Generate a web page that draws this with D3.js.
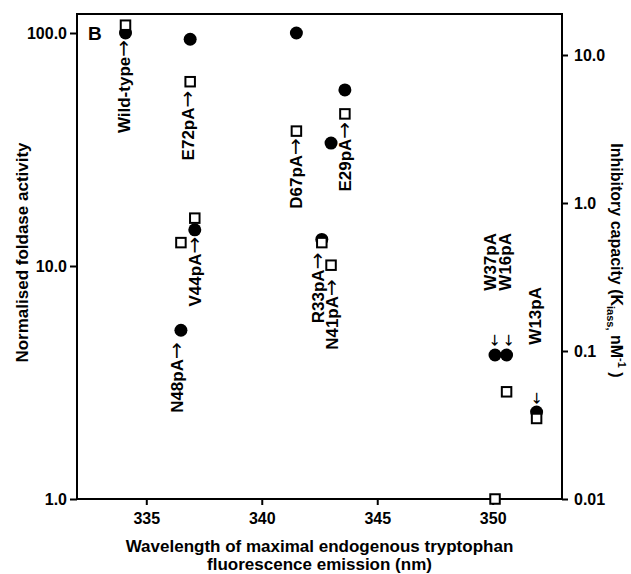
<!DOCTYPE html>
<html><head><meta charset="utf-8">
<script src="https://cdn.jsdelivr.net/npm/d3@7"></script>
<style>
html,body{margin:0;padding:0;background:#fff;}
svg{display:block;font-family:"Liberation Sans",Arial,sans-serif;}
</style></head>
<body><svg id="chart" width="631" height="574"></svg>
<script>
// ---- data ----
const mutants    = ["Wild-type","E72pA","N48pA","V44pA","D67pA","R33pA","N41pA","E29pA","W37pA","W16pA","W13pA"];
const wavelength = [334.1, 336.9, 336.5, 337.1, 341.5, 342.6, 343.0, 343.6, 350.1, 350.6, 351.9];
const foldase    = [100, 94, 5.3, 14.3, 100, 13.0, 33.7, 57, 4.15, 4.15, 2.36];
const inhibitory = [15.9, 6.6, 0.54, 0.79, 3.06, 0.54, 0.38, 4.0, 0.01, 0.053, 0.035];
const xTicks = [335, 340, 345, 350];
const leftTicks = [1, 10, 100];
const leftTickLabels = ["1.0", "10.0", "100.0"];
const rightTicks = [0.01, 0.1, 1, 10];
const rightTickLabels = ["0.01", "0.1", "1.0", "10.0"];

// ---- layout ----
const L = 77, R = 562, T = 14, B = 499;
const svg = d3.select("#chart");
const x = d3.scaleLinear().domain([332, 353]).range([L, R]);
const yL = d3.scaleLog().domain([1, 100]).range([B, 33]);
const yR = d3.scaleLog().domain([0.01, 10]).range([B, 55]);
const arrowFont = "'DejaVu Sans', sans-serif";

// frame
svg.append("rect").attr("x", L).attr("y", T).attr("width", R - L).attr("height", B - T)
  .attr("fill", "none").attr("stroke", "#000").attr("stroke-width", 2);

function styleAxis(g) {
  g.select(".domain").remove();
  g.selectAll(".tick line").attr("stroke", "#000").attr("stroke-width", 2);
  g.selectAll(".tick text").attr("fill", "#000").style("font-size", "16px").style("font-weight", "bold")
    .style("font-family", "'Liberation Sans', Arial, sans-serif");
}
svg.append("g").attr("transform", `translate(0,${B})`)
  .call(d3.axisBottom(x).tickValues(xTicks).tickSize(6).tickPadding(8).tickFormat(d3.format("d")))
  .call(styleAxis);
svg.append("g").attr("transform", `translate(${L},0)`)
  .call(d3.axisLeft(yL).tickValues(leftTicks).tickSize(7).tickPadding(3)
    .tickFormat(d => leftTickLabels[leftTicks.indexOf(d)]))
  .call(styleAxis);
svg.append("g").attr("transform", `translate(${R},0)`)
  .call(d3.axisRight(yR).tickValues(rightTicks).tickSize(6).tickPadding(6)
    .tickFormat(d => rightTickLabels[rightTicks.indexOf(d)]))
  .call(styleAxis);

// axis titles
svg.append("text").attr("transform", `translate(22,${(T + B) / 2 - 4}) rotate(-90)`)
  .attr("text-anchor", "middle").attr("dy", "0.35em")
  .style("font-size", "17px").style("font-weight", "bold").text("Normalised foldase activity");

const rt = svg.append("text").attr("transform", `translate(617,${(T + B) / 2 + 4}) rotate(90)`)
  .attr("text-anchor", "middle").attr("dy", "0.35em")
  .style("font-size", "16px").style("font-weight", "bold");
rt.append("tspan").text("Inhibitory capacity (K");
rt.append("tspan").attr("dy", 4).style("font-size", "11px").text("iass,");
rt.append("tspan").attr("dy", -4).text(" nM");
rt.append("tspan").attr("dy", -7).style("font-size", "11px").text("-1");
rt.append("tspan").attr("dy", 7).text(" )");

const xt = svg.append("text").attr("text-anchor", "middle")
  .style("font-size", "17px").style("font-weight", "bold");
xt.append("tspan").attr("x", (L + R) / 2).attr("y", 552).text("Wavelength of maximal endogenous tryptophan");
xt.append("tspan").attr("x", (L + R) / 2).attr("y", 570).text("fluorescence emission (nm)");

// panel letter
svg.append("text").attr("x", 88).attr("y", 40).style("font-size", "19px").style("font-weight", "bold").text("B");

// ---- marks ----
const idx = d3.range(mutants.length);
svg.append("g").selectAll("circle").data(idx).join("circle")
  .attr("cx", i => x(wavelength[i])).attr("cy", i => yL(foldase[i])).attr("r", 6.5).attr("fill", "#000");
const s = 9.5;
svg.append("g").selectAll("rect").data(idx).join("rect")
  .attr("x", i => x(wavelength[i]) - s / 2).attr("y", i => yR(inhibitory[i]) - s / 2)
  .attr("width", s).attr("height", s).attr("fill", "#fff").attr("stroke", "#000").attr("stroke-width", 2);

// ---- labels (rotated, arrow pointing up to the marks) ----
const labelLayout = {
  "Wild-type": {ref: "c", dx: -1, dy: 7},
  "E72pA": {ref: "s", dx: -2, dy: 9},
  "N48pA": {ref: "c", dx: -4, dy: 12},
  "V44pA": {ref: "c", dx: 0, dy: 7},
  "D67pA": {ref: "s", dx: 0, dy: 7},
  "R33pA": {ref: "s", dx: -4, dy: 10},
  "N41pA": {ref: "s", dx: 1, dy: 14},
  "E29pA": {ref: "s", dx: 0, dy: 8}
};
const lg = svg.append("g").style("font-size", "17px").style("font-weight", "bold").attr("fill", "#000");
idx.forEach(i => {
  const m = mutants[i];
  const lay = labelLayout[m];
  if (!lay) return;
  const px = x(wavelength[i]) + lay.dx;
  const py = (lay.ref === "c" ? yL(foldase[i]) : yR(inhibitory[i])) + lay.dy;
  const t = lg.append("text").attr("transform", `translate(${px},${py}) rotate(-90)`)
    .attr("text-anchor", "end").attr("dy", "0.35em");
  t.append("tspan").text(m);
  t.append("tspan").style("font-weight", "normal").style("font-family", arrowFont)
    .style("font-size", "20px").text("\u2192");
});

// tryptophan mutants: label above, separate down arrow
const wLayout = {
  "W37pA": {dx: -5, top: 233, arrowDx: -1, arrowGap: 8},
  "W16pA": {dx: -2, top: 233, arrowDx: 2, arrowGap: 8},
  "W13pA": {dx: -2, top: 287, arrowDx: 0, arrowGap: 7}
};
idx.forEach(i => {
  const m = mutants[i];
  const lay = wLayout[m];
  if (!lay) return;
  const px = x(wavelength[i]);
  lg.append("text").attr("transform", `translate(${px + lay.dx},${lay.top}) rotate(-90)`)
    .attr("text-anchor", "end").attr("dy", "0.35em").text(m);
  lg.append("text").attr("transform", `translate(${px + lay.arrowDx},${yL(foldase[i]) - lay.arrowGap - 7}) rotate(90)`)
    .attr("text-anchor", "middle").attr("dy", "0.3em").style("font-weight", "normal").style("font-family", arrowFont)
    .style("font-size", "15px").text("\u2192");
});
</script></body></html>
